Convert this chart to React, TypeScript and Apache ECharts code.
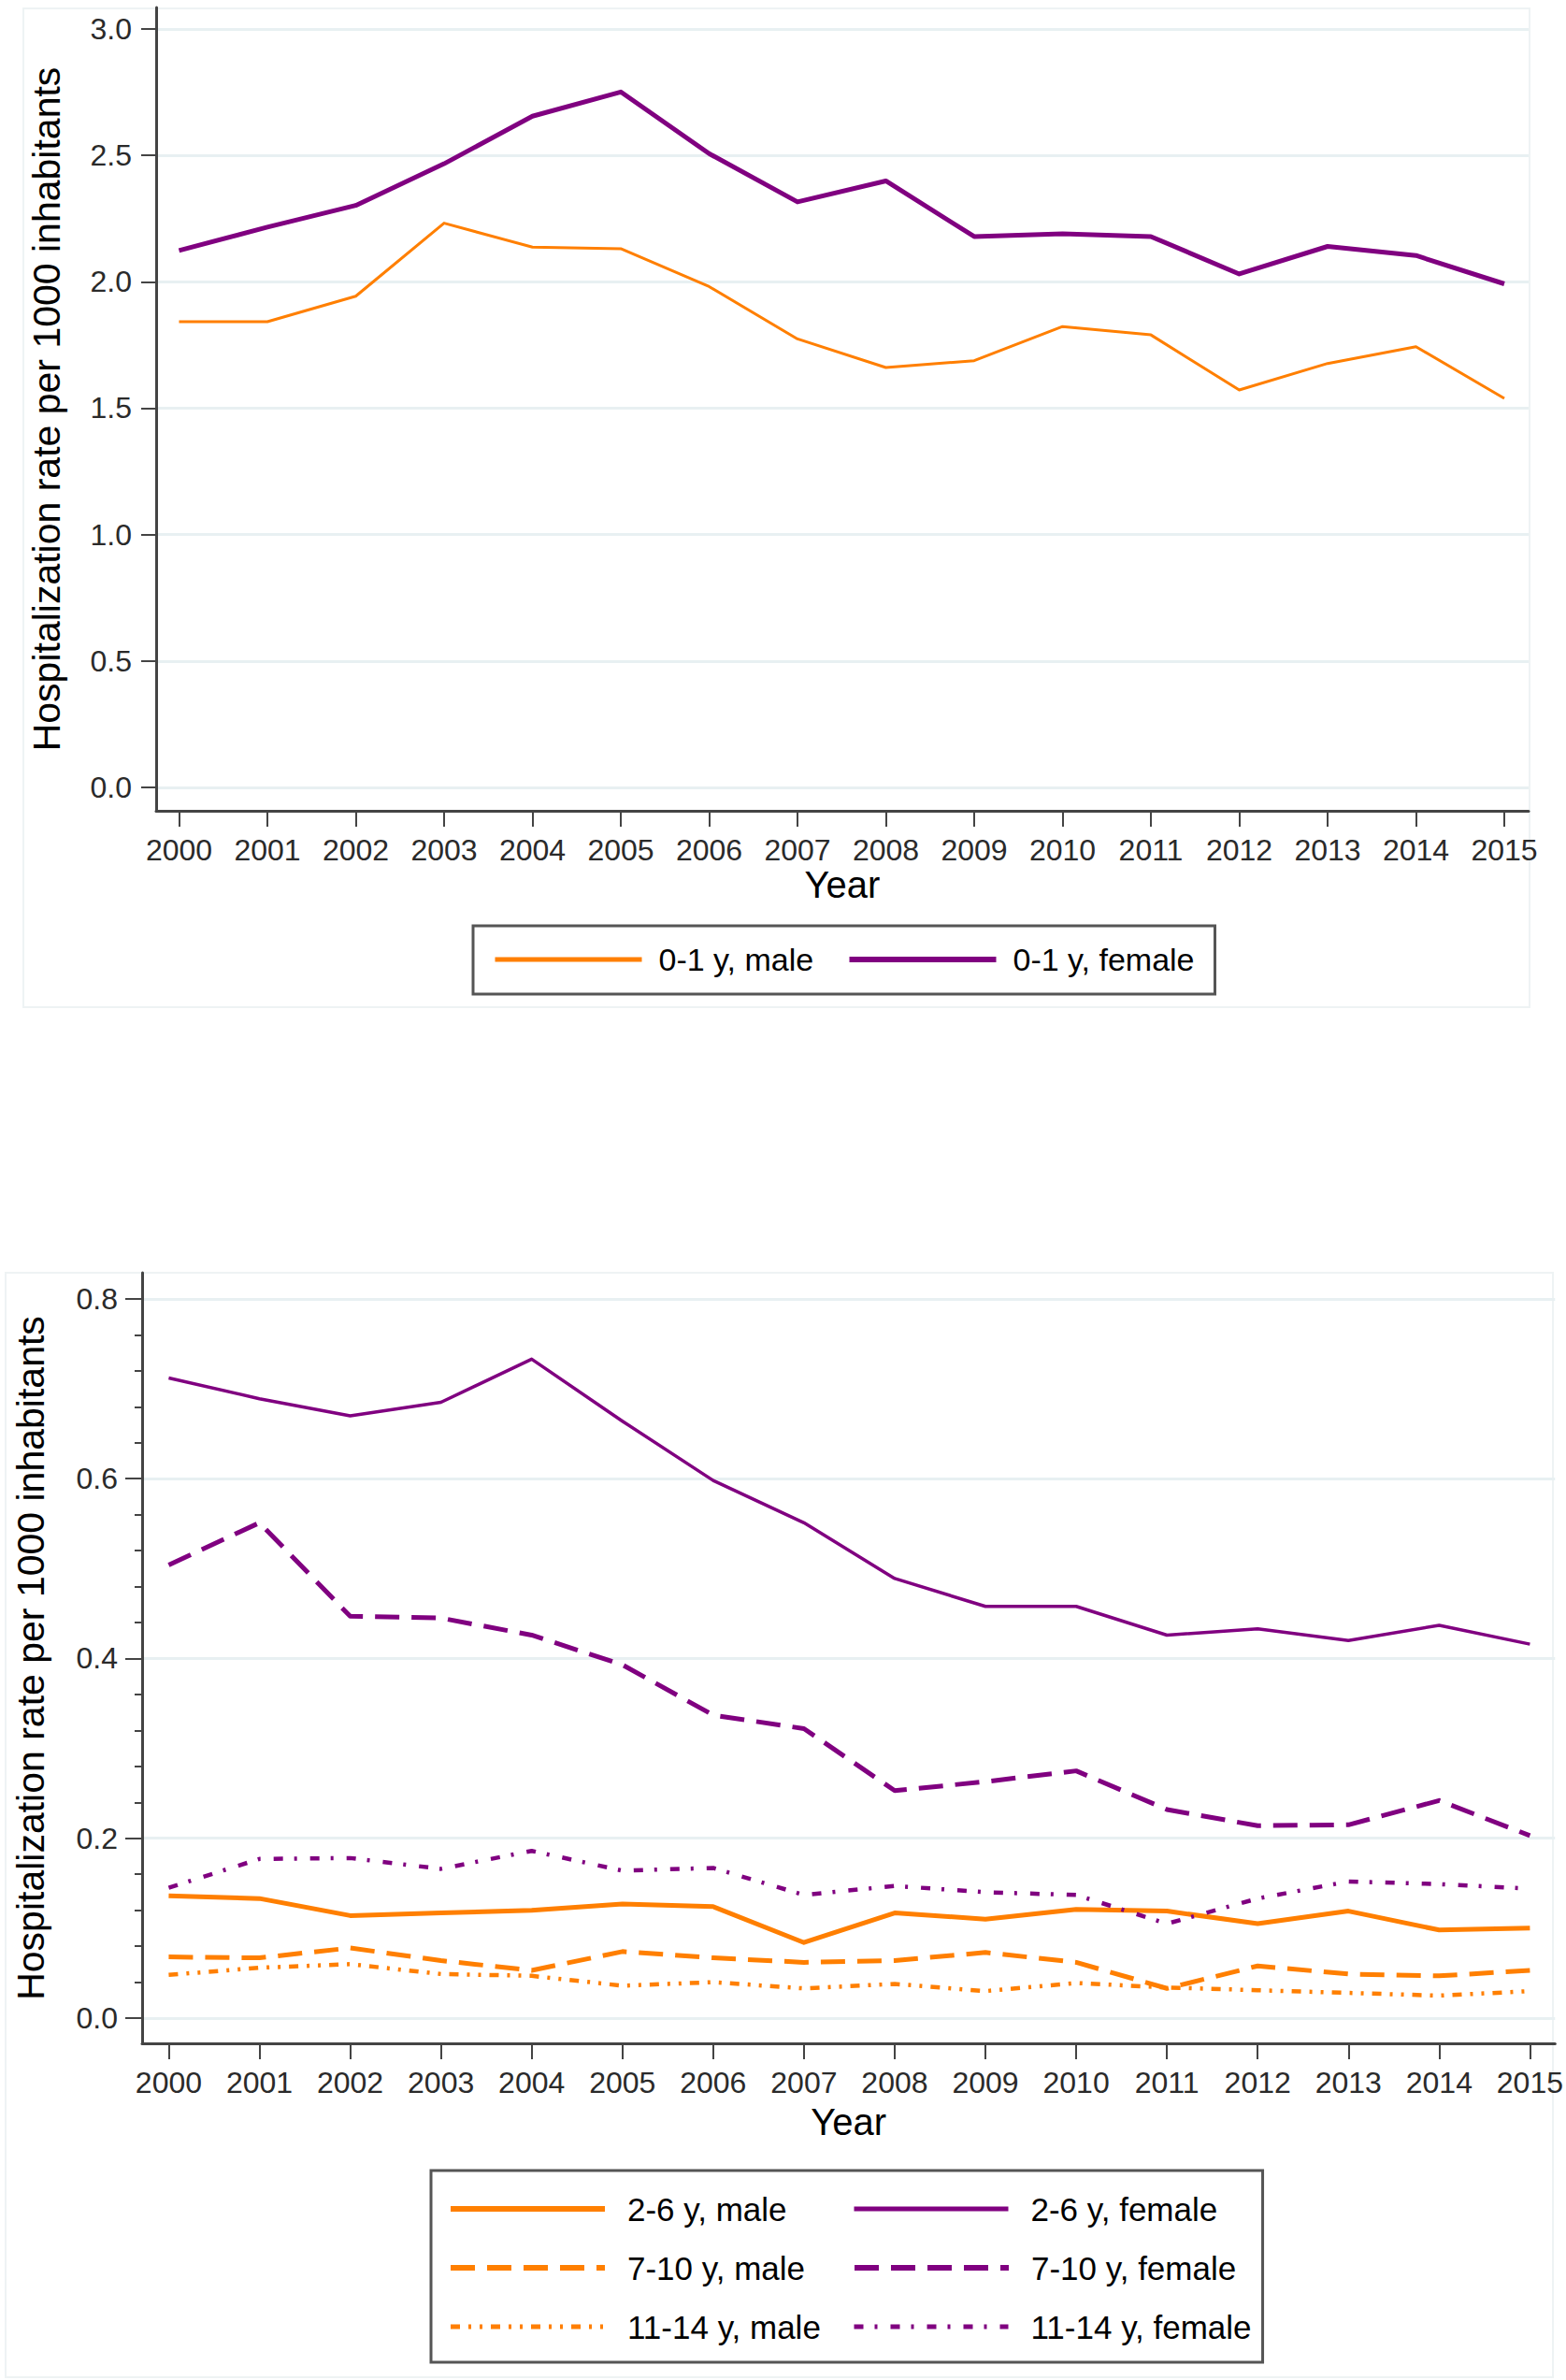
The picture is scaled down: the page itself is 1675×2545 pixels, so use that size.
import React, { useEffect, useRef } from "react";
import * as echarts from "echarts";

const YEARS = [2000, 2001, 2002, 2003, 2004, 2005, 2006, 2007, 2008, 2009, 2010, 2011, 2012, 2013, 2014, 2015];

// Top panel: 0-1 y
const INFANT_MALE = [1.842, 1.842, 1.943, 2.232, 2.137, 2.131, 1.981, 1.774, 1.661, 1.688, 1.823, 1.79, 1.572, 1.677, 1.743, 1.539];
const INFANT_FEMALE = [2.124, 2.216, 2.302, 2.467, 2.655, 2.751, 2.507, 2.316, 2.399, 2.179, 2.19, 2.179, 2.031, 2.14, 2.104, 1.992];

// Bottom panel
const M_2_6 = [0.136, 0.133, 0.114, 0.117, 0.12, 0.127, 0.124, 0.084, 0.117, 0.11, 0.121, 0.119, 0.105, 0.119, 0.098, 0.1];
const F_2_6 = [0.712, 0.689, 0.67, 0.685, 0.733, 0.664, 0.598, 0.551, 0.489, 0.458, 0.458, 0.426, 0.433, 0.42, 0.437, 0.416];
const M_7_10 = [0.068, 0.067, 0.078, 0.064, 0.053, 0.074, 0.067, 0.062, 0.064, 0.073, 0.062, 0.033, 0.058, 0.049, 0.047, 0.053];
const F_7_10 = [0.504, 0.551, 0.447, 0.445, 0.426, 0.393, 0.337, 0.322, 0.253, 0.263, 0.275, 0.232, 0.214, 0.215, 0.242, 0.203];
const M_11_14 = [0.048, 0.056, 0.06, 0.049, 0.047, 0.036, 0.04, 0.033, 0.038, 0.03, 0.039, 0.034, 0.031, 0.028, 0.025, 0.03];
const F_11_14 = [0.145, 0.177, 0.178, 0.166, 0.186, 0.164, 0.167, 0.137, 0.147, 0.14, 0.137, 0.105, 0.133, 0.152, 0.149, 0.144];

const TOP_TICKS = [0, 0.5, 1.0, 1.5, 2.0, 2.5, 3.0];
const BOTTOM_TICKS = [0, 0.2, 0.4, 0.6, 0.8];
const BOTTOM_MINOR = [0.04, 0.08, 0.12, 0.16, 0.24, 0.28, 0.32, 0.36, 0.44, 0.48, 0.52, 0.56, 0.64, 0.68, 0.72, 0.76];

const TOP_LEGEND = ["0-1 y, male", "0-1 y, female"];
const BOTTOM_LEGEND = ["2-6 y, male", "2-6 y, female", "7-10 y, male", "7-10 y, female", "11-14 y, male", "11-14 y, female"];

const ORANGE = "#FF7F00";
const PURPLE = "#800080";
const FONT = "Liberation Sans, Arial, sans-serif";
const AXIS_COLOR = "#444";
const GRID_COLOR = "#E8F0F2";
const TEXT_COLOR = "#2a2a2a";

const DASH: number[] = [26, 13];
const DASH_DOT_DOT: number[] = [10, 9, 3, 9, 3, 9];
const DASH_DOT: number[] = [10, 12, 3, 14];

const pairs = (vals: number[]) => YEARS.map((y, i) => [y, vals[i]]);

function line(name: string, vals: number[], color: string, width: number, type: any, idx: number) {
  return {
    type: "line",
    name,
    data: pairs(vals),
    xAxisIndex: idx,
    yAxisIndex: idx,
    symbol: "none",
    showSymbol: false,
    silent: true,
    lineStyle: { color, width, type, cap: "butt", join: "round" },
    itemStyle: { color },
  };
}

function legendItem(name: string, color: string, width: number, type: any) {
  return {
    name,
    itemStyle: { opacity: 0, color: "rgba(0,0,0,0)", borderWidth: 0 },
    lineStyle: { color, width, type, cap: "butt", opacity: 1 },
  };
}

function xAxis(gridIndex: number, min: number, max: number, nameGap: number) {
  return {
    type: "value",
    gridIndex,
    min,
    max,
    name: "Year",
    nameLocation: "middle",
    nameGap,
    nameTextStyle: { fontFamily: FONT, fontSize: 40, color: "#000" },
    axisLine: { show: true, onZero: false, lineStyle: { color: AXIS_COLOR, width: 3 } },
    axisTick: { show: true, customValues: YEARS, length: 17, lineStyle: { color: AXIS_COLOR, width: 2 } },
    axisLabel: {
      show: true,
      customValues: YEARS,
      margin: 26,
      fontFamily: FONT,
      fontSize: 32,
      color: TEXT_COLOR,
      formatter: (v: number) => String(v),
    },
    splitLine: { show: false },
  };
}

function yAxis(gridIndex: number, min: number, max: number, ticks: number[], nameGap: number, tickLen: number) {
  return {
    type: "value",
    gridIndex,
    min,
    max,
    name: "Hospitalization rate per 1000 inhabitants",
    nameLocation: "middle",
    nameRotate: 90,
    nameGap,
    nameTextStyle: { fontFamily: FONT, fontSize: 41, color: "#000" },
    axisLine: { show: true, onZero: false, lineStyle: { color: AXIS_COLOR, width: 3 } },
    axisTick: { show: true, customValues: ticks, length: tickLen, lineStyle: { color: AXIS_COLOR, width: 2 } },
    axisLabel: {
      show: true,
      customValues: ticks,
      margin: 26,
      fontFamily: FONT,
      fontSize: 32,
      color: TEXT_COLOR,
      formatter: (v: number) => v.toFixed(1),
    },
    splitLine: { show: true, lineStyle: { color: GRID_COLOR, width: 3 } },
  };
}

export default function App() {
  const ref = useRef<HTMLDivElement>(null);

  useEffect(() => {
    if (!ref.current) return;
    const chart = echarts.init(ref.current, null, { renderer: "svg", width: 1675, height: 2545 });

    const option: any = {
      animation: false,
      backgroundColor: "#ffffff",
      textStyle: { fontFamily: FONT },
      grid: [
        { left: 167, top: 8, width: 1468, height: 859, containLabel: false },
        { left: 152, top: 1361, width: 1515, height: 824, containLabel: false },
      ],
      xAxis: [
        xAxis(0, 1999.741, 2015.275, 57),
        xAxis(1, 1999.707, 2015.277, 64),
      ],
      yAxis: [
        yAxis(0, -0.0925, 3.0851, TOP_TICKS, 97, 16),
        yAxis(1, -0.0281, 0.8291, BOTTOM_TICKS, 99, 18),
        {
          type: "value",
          gridIndex: 1,
          min: -0.0281,
          max: 0.8291,
          position: "left",
          axisLine: { show: false },
          axisTick: { show: true, customValues: BOTTOM_MINOR, length: 8, lineStyle: { color: AXIS_COLOR, width: 2 } },
          axisLabel: { show: false },
          splitLine: { show: false },
        },
      ],
      legend: [
        {
          data: [
            legendItem(TOP_LEGEND[0], ORANGE, 5, "solid"),
            legendItem(TOP_LEGEND[1], PURPLE, 6, "solid"),
          ],
          left: 506,
          top: 990,
          orient: "horizontal",
          padding: [17, 16, 18, 21],
          itemWidth: 157,
          itemHeight: 14,
          itemGap: 1,
          borderColor: "#555",
          borderWidth: 3,
          selectedMode: false,
          textStyle: { fontFamily: FONT, fontSize: 34, color: "#000", width: 200, lineHeight: 38, padding: [0, 0, 0, 13] },
        },
        {
          data: [
            legendItem(BOTTOM_LEGEND[0], ORANGE, 6, "solid"),
            legendItem(BOTTOM_LEGEND[1], PURPLE, 5, "solid"),
            legendItem(BOTTOM_LEGEND[2], ORANGE, 6, DASH),
            legendItem(BOTTOM_LEGEND[3], PURPLE, 6, DASH),
            legendItem(BOTTOM_LEGEND[4], ORANGE, 5, DASH_DOT_DOT),
            legendItem(BOTTOM_LEGEND[5], PURPLE, 5, DASH_DOT),
          ],
          left: 461,
          top: 2321,
          orient: "horizontal",
          width: 880,
          padding: [22, 12, 19, 18],
          itemWidth: 165,
          itemHeight: 14,
          itemGap: 25,
          borderColor: "#555",
          borderWidth: 3,
          selectedMode: false,
          textStyle: { fontFamily: FONT, fontSize: 35, color: "#000", width: 215, lineHeight: 38, padding: [0, 0, 0, 19] },
        },
      ],
      graphic: [
        { type: "rect", silent: true, z: -10, shape: { x: 25, y: 9, width: 1611, height: 1068 }, style: { fill: "none", stroke: "#EEF3F4", lineWidth: 2 } },
        { type: "rect", silent: true, z: -10, shape: { x: 6, y: 1361, width: 1655, height: 1181 }, style: { fill: "none", stroke: "#EEF3F4", lineWidth: 2 } },
      ],
      series: [
        line(TOP_LEGEND[0], INFANT_MALE, ORANGE, 3, "solid", 0),
        line(TOP_LEGEND[1], INFANT_FEMALE, PURPLE, 5, "solid", 0),
        line(BOTTOM_LEGEND[0], M_2_6, ORANGE, 5, "solid", 1),
        line(BOTTOM_LEGEND[1], F_2_6, PURPLE, 3.5, "solid", 1),
        line(BOTTOM_LEGEND[2], M_7_10, ORANGE, 5, DASH, 1),
        line(BOTTOM_LEGEND[3], F_7_10, PURPLE, 5, DASH, 1),
        line(BOTTOM_LEGEND[4], M_11_14, ORANGE, 4.5, DASH_DOT_DOT, 1),
        line(BOTTOM_LEGEND[5], F_11_14, PURPLE, 4.5, DASH_DOT, 1),
      ],
    };

    chart.setOption(option);
    return () => chart.dispose();
  }, []);

  return <div ref={ref} style={{ position: "absolute", left: 0, top: 0, width: 1675, height: 2545 }} />;
}
